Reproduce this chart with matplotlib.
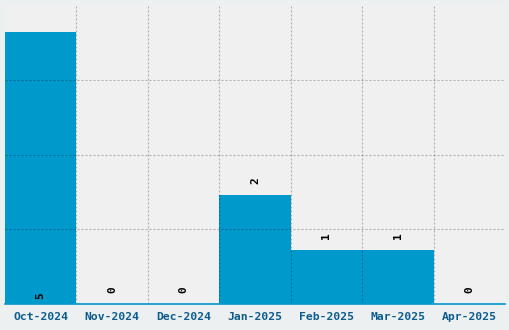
import matplotlib
matplotlib.use("Agg")
import matplotlib.pyplot as plt
import numpy as np

categories = ["Oct-2024", "Nov-2024", "Dec-2024", "Jan-2025", "Feb-2025", "Mar-2025", "Apr-2025"]
values = [5, 0, 0, 2, 1, 1, 0]

bar_color = "#0099cc"
fig = plt.figure(figsize=(5.1, 3.3), dpi=100, facecolor="#ecf0f1")
ax = fig.add_axes([5/510, 26/330, 500/510, 299/330])
ax.set_facecolor("#f0f0f0")

x = np.arange(len(categories))
ax.bar(x, values, width=1.0, color=bar_color, align="center", zorder=1)
ax.set_xlim(-0.5, len(categories) - 0.5)
ax.set_ylim(0, 5.5)

ax.grid(False)
for xv in np.arange(1, len(categories)) - 0.5:
    ax.axvline(xv, color="black", alpha=0.28, lw=0.8, ls=(0, (1.8, 1.8)), zorder=2)
for yv in np.linspace(0, 5.5, 5)[1:-1]:
    ax.axhline(yv, color="black", alpha=0.28, lw=0.8, ls=(0, (1.8, 1.8)), zorder=2)

ax.set_xticks(x)
ax.set_xticklabels(categories, fontfamily="DejaVu Sans Mono", fontweight="bold",
                   fontsize=8.2, color="#0e5c8e")
ax.set_yticks([])
ax.tick_params(axis="x", length=0, pad=6)
for s in ["top", "left", "right"]:
    ax.spines[s].set_visible(False)
ax.spines["bottom"].set_color(bar_color)
ax.spines["bottom"].set_linewidth(1.2)

vmax = max(values)
for xi, v in zip(x, values):
    ypos = 0.1 if v == vmax else v + 0.2
    ax.text(xi, ypos, str(v), rotation=90, ha="center", va="bottom",
            fontfamily="DejaVu Sans Mono", fontweight="bold", fontsize=8, color="black", zorder=3)

fig.savefig("out.png", dpi=100, facecolor=fig.get_facecolor())
